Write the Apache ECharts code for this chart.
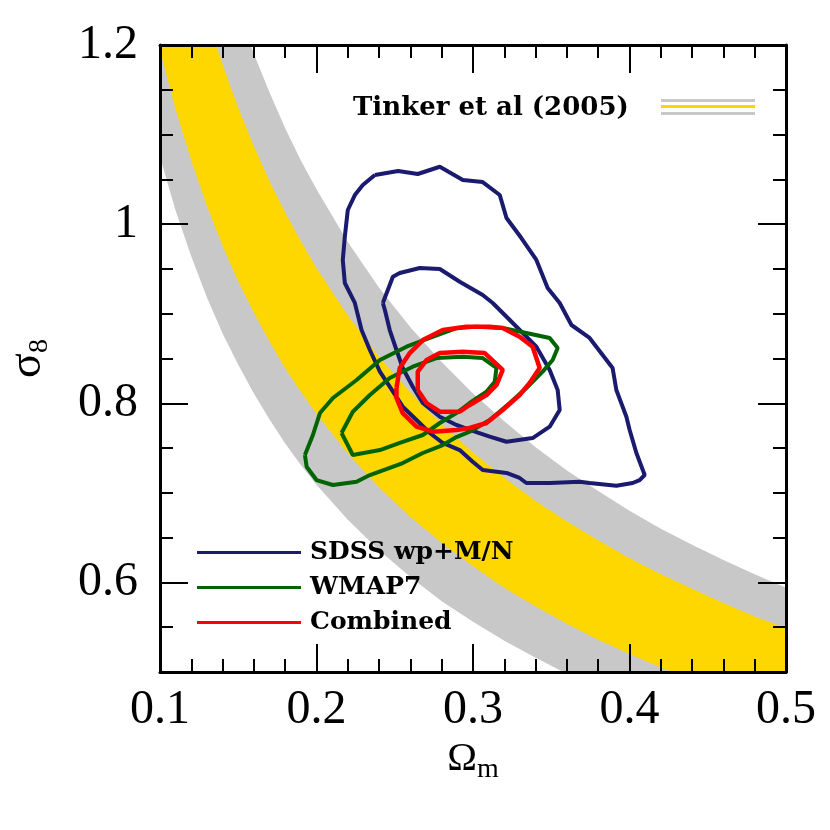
<!DOCTYPE html>
<html>
<head>
<meta charset="utf-8">
<script src="https://cdn.jsdelivr.net/npm/echarts@6/dist/echarts.min.js"></script>
<style>
  html, body { margin: 0; background: #fff; }
  #chart { width: 830px; height: 830px; }
</style>
</head>
<body>
<div id="chart"></div>
<script>
// Tinker et al (2005) band edges, sigma_8 read at each Omega_m
var omegaGrid = [0.10, 0.11, 0.12, 0.13, 0.14, 0.15, 0.16, 0.17, 0.18, 0.19, 0.20,
  0.22, 0.24, 0.26, 0.28, 0.30, 0.32, 0.34, 0.36, 0.38, 0.40, 0.42, 0.44, 0.46, 0.48, 0.50];
var grayHi = [1.585, 1.495, 1.418, 1.350, 1.291, 1.237, 1.190, 1.147, 1.107, 1.071, 1.039,
  0.980, 0.929, 0.885, 0.846, 0.811, 0.780, 0.751, 0.725, 0.702, 0.680, 0.660, 0.642, 0.625, 0.609, 0.594];
var yellowHi = [1.441, 1.361, 1.292, 1.231, 1.178, 1.130, 1.087, 1.048, 1.013, 0.981, 0.951,
  0.898, 0.852, 0.812, 0.777, 0.745, 0.717, 0.691, 0.668, 0.647, 0.627, 0.609, 0.593, 0.577, 0.562, 0.549];
var yellowLo = [1.194, 1.128, 1.071, 1.020, 0.976, 0.936, 0.901, 0.869, 0.839, 0.813, 0.788,
  0.744, 0.706, 0.673, 0.644, 0.618, 0.594, 0.573, 0.554, 0.536, 0.520, 0.505, 0.491, 0.478, 0.466, 0.455];
var grayLo = [1.075, 1.015, 0.964, 0.918, 0.878, 0.843, 0.811, 0.782, 0.755, 0.731, 0.709,
  0.670, 0.636, 0.606, 0.579, 0.556, 0.535, 0.516, 0.498, 0.482, 0.468, 0.454, 0.442, 0.430, 0.419, 0.409];

// contours [Omega_m, sigma_8]
var sdssOuter = [[0.2373, 1.0549], [0.2522, 1.0593], [0.2647, 1.0560], [0.2788, 1.0641], [0.2935, 1.0493],
  [0.3062, 1.0470], [0.3171, 1.0325], [0.3214, 1.0069], [0.3309, 0.9845], [0.3405, 0.9600], [0.3477, 0.9287],
  [0.3554, 0.9120], [0.3629, 0.8874], [0.3745, 0.8729], [0.3892, 0.8394], [0.3916, 0.8148], [0.3980, 0.7850],
  [0.4001, 0.7702], [0.4044, 0.7445], [0.4097, 0.7199], [0.4065, 0.7143], [0.4020, 0.7110], [0.3916, 0.7080],
  [0.3745, 0.7110], [0.3682, 0.7124], [0.3490, 0.7110], [0.3341, 0.7110], [0.3298, 0.7166], [0.3214, 0.7222],
  [0.3062, 0.7255], [0.2998, 0.7348], [0.2915, 0.7478], [0.2807, 0.7557], [0.2724, 0.7668], [0.2639, 0.7813],
  [0.2551, 0.7962], [0.2468, 0.8185], [0.2405, 0.8353], [0.2341, 0.8595], [0.2288, 0.8818], [0.2245, 0.9120],
  [0.2181, 0.9343], [0.2168, 0.9600], [0.2181, 0.9860], [0.2200, 1.0158], [0.2245, 1.0325], [0.2296, 1.0437]];
var sdssInner = [[0.2424, 0.9120], [0.2488, 0.9413], [0.2532, 0.9454], [0.2660, 0.9510], [0.2788, 0.9499],
  [0.2915, 0.9357], [0.3062, 0.9209], [0.3126, 0.9120], [0.3203, 0.8986], [0.3254, 0.8896], [0.3405, 0.8632],
  [0.3490, 0.8372], [0.3541, 0.8148], [0.3554, 0.7925], [0.3490, 0.7739], [0.3381, 0.7612], [0.3214, 0.7571],
  [0.3107, 0.7627], [0.2979, 0.7702], [0.2894, 0.7758], [0.2788, 0.7850], [0.2679, 0.8003], [0.2615, 0.8185],
  [0.2551, 0.8394], [0.2511, 0.8595], [0.2468, 0.8818], [0.2437, 0.9041]];
var wmapOuter = [[0.1926, 0.7423], [0.1977, 0.7646], [0.2022, 0.7891], [0.2105, 0.8059], [0.2256, 0.8260],
  [0.2405, 0.8483], [0.2575, 0.8632], [0.2724, 0.8729], [0.2894, 0.8840], [0.3022, 0.8855], [0.3190, 0.8840],
  [0.3341, 0.8785], [0.3490, 0.8729], [0.3541, 0.8617], [0.3509, 0.8483], [0.3445, 0.8353], [0.3341, 0.8171],
  [0.3235, 0.8003], [0.3107, 0.7813], [0.2979, 0.7683], [0.2894, 0.7623], [0.2807, 0.7534], [0.2679, 0.7445],
  [0.2551, 0.7333], [0.2341, 0.7199], [0.2256, 0.7124], [0.2105, 0.7088], [0.2000, 0.7143], [0.1937, 0.7292]];
var wmapInner = [[0.2160, 0.7668], [0.2232, 0.7906], [0.2341, 0.8092], [0.2468, 0.8282], [0.2615, 0.8408],
  [0.2767, 0.8505], [0.2935, 0.8520], [0.3062, 0.8505], [0.3150, 0.8394], [0.3139, 0.8241], [0.3086, 0.8129],
  [0.2979, 0.8003], [0.2894, 0.7891], [0.2788, 0.7780], [0.2679, 0.7646], [0.2532, 0.7557], [0.2405, 0.7478],
  [0.2232, 0.7423]];
var combOuter = [[0.2511, 0.8171], [0.2532, 0.8394], [0.2596, 0.8561], [0.2679, 0.8706], [0.2807, 0.8818],
  [0.2958, 0.8855], [0.3107, 0.8855], [0.3190, 0.8840], [0.3298, 0.8743], [0.3381, 0.8632], [0.3426, 0.8394],
  [0.3362, 0.8226], [0.3298, 0.8092], [0.3190, 0.7925], [0.3086, 0.7780], [0.2979, 0.7724], [0.2894, 0.7702],
  [0.2743, 0.7683], [0.2639, 0.7739], [0.2551, 0.7891], [0.2511, 0.8059]];
var combInner = [[0.2647, 0.8148], [0.2647, 0.8353], [0.2703, 0.8483], [0.2788, 0.8561], [0.2935, 0.8576],
  [0.3075, 0.8561], [0.3190, 0.8372], [0.3150, 0.8204], [0.3086, 0.8092], [0.2979, 0.7981], [0.2915, 0.7906],
  [0.2788, 0.7906], [0.2703, 0.8003]];

var yMajor = [0.6, 0.8, 1.0, 1.2];
var names = ['SDSS wp+M/N', 'WMAP7', 'Combined'];
var colors = ['#1a1a6e', '#006400', '#ff0000'];

var chart = echarts.init(document.getElementById('chart'));

function closeLoop(pts) {
  return pts.concat([pts[0]]);
}

function band(lo, hi, color) {
  return {
    type: 'custom',
    silent: true,
    clip: true,
    z: 1,
    data: omegaGrid.map(function (x, i) { return [x, lo[i], hi[i]]; }),
    renderItem: function (params, api) {
      if (params.dataIndex !== 0) return;
      var top = omegaGrid.map(function (x, i) { return api.coord([x, hi[i]]); });
      var bot = omegaGrid.map(function (x, i) { return api.coord([x, lo[i]]); }).reverse();
      var cs = params.coordSys;
      return {
        type: 'polygon',
        shape: { points: top.concat(bot) },
        style: { fill: color },
        clipPath: { type: 'rect', shape: { x: cs.x, y: cs.y, width: cs.width, height: cs.height } }
      };
    }
  };
}

function contour(pts, k) {
  return {
    name: names[k],
    type: 'line',
    data: closeLoop(pts),
    symbol: 'none',
    smooth: false,
    z: 3 + k,
    color: colors[k],
    lineStyle: { color: colors[k], width: k === 2 ? 4.5 : 4 }
  };
}

var serif = 'Liberation Serif';
var tickLine = { color: '#000', width: 2 };

function xAxis(pos, showLabel) {
  return {
    type: 'value', position: pos, min: 0.1, max: 0.5, interval: 0.1, z: 10,
    axisLine: { show: true, onZero: false, lineStyle: { color: '#000', width: 3 } },
    axisTick: { show: true, inside: true, length: 28, lineStyle: tickLine },
    minorTick: { show: true, splitNumber: 5, length: 13, lineStyle: tickLine },
    splitLine: { show: false },
    axisLabel: { show: showLabel, fontFamily: serif, fontSize: 48, color: '#000', margin: 14 },
    name: showLabel ? '{a|Ω}{b|m}' : '',
    nameLocation: 'middle',
    nameGap: 62,
    nameTextStyle: {
      fontFamily: serif, color: '#000',
      rich: { a: { fontFamily: serif, fontSize: 40 }, b: { fontFamily: serif, fontSize: 28, padding: [22, 0, 0, 0] } }
    }
  };
}

function yMinor(pos, showLabel) {
  return {
    type: 'value', position: pos, min: 0.5, max: 1.2, interval: 0.05, z: 10,
    axisLine: { show: true, onZero: false, lineStyle: { color: '#000', width: 3 } },
    axisTick: { show: true, inside: true, length: 13, lineStyle: tickLine },
    splitLine: { show: false },
    axisLabel: { show: showLabel, customValues: yMajor, fontFamily: serif, fontSize: 48, color: '#000', margin: 22 },
    name: showLabel ? '{a|σ}{b|8}' : '',
    nameLocation: 'middle',
    nameRotate: 90,
    nameGap: 106,
    nameTextStyle: {
      fontFamily: serif, color: '#000',
      rich: { a: { fontFamily: serif, fontSize: 46 }, b: { fontFamily: serif, fontSize: 28, padding: [24, 0, 0, 0] } }
    }
  };
}

function yMajorAxis(pos) {
  return {
    type: 'value', position: pos, min: 0.5, max: 1.2, z: 10,
    axisLine: { show: false, onZero: false },
    axisTick: { show: true, inside: true, length: 28, customValues: yMajor, lineStyle: tickLine },
    splitLine: { show: false },
    axisLabel: { show: false }
  };
}

var series = [
  band(grayLo, grayHi, '#c8c8c8'),
  band(yellowLo, yellowHi, '#ffd700'),
  contour(sdssOuter, 0),
  contour(sdssInner, 0),
  contour(wmapOuter, 1),
  contour(wmapInner, 1),
  contour(combOuter, 2),
  contour(combInner, 2)
];

chart.setOption({
  backgroundColor: '#fff',
  animation: false,
  grid: { left: 160, top: 45, right: 44, bottom: 158, containLabel: false, outerBoundsMode: 'none' },
  xAxis: [xAxis('bottom', true), xAxis('top', false)],
  yAxis: [yMinor('left', true), yMajorAxis('left'), yMinor('right', false), yMajorAxis('right')],
  legend: {
    data: names,
    orient: 'vertical',
    left: 192,
    top: 535,
    icon: 'rect',
    itemWidth: 104,
    itemHeight: 3,
    itemGap: 10,
    textStyle: { fontFamily: 'DejaVu Serif', fontWeight: 'bold', fontSize: 25, color: '#000', padding: [0, 0, 0, 4] }
  },
  graphic: [
    {
      type: 'text', left: 353, top: 95, z: 20,
      style: { text: 'Tinker et al (2005)', fontFamily: 'DejaVu Serif', fontWeight: 'bold', fontSize: 26, fill: '#000' }
    },
    { type: 'rect', left: 661, top: 99, z: 20, shape: { width: 94, height: 3 }, style: { fill: '#c8c8c8' } },
    { type: 'rect', left: 661, top: 105, z: 20, shape: { width: 94, height: 3 }, style: { fill: '#ffd700' } },
    { type: 'rect', left: 661, top: 112, z: 20, shape: { width: 94, height: 3 }, style: { fill: '#c8c8c8' } }
  ],
  series: series
});
</script>
</body>
</html>
